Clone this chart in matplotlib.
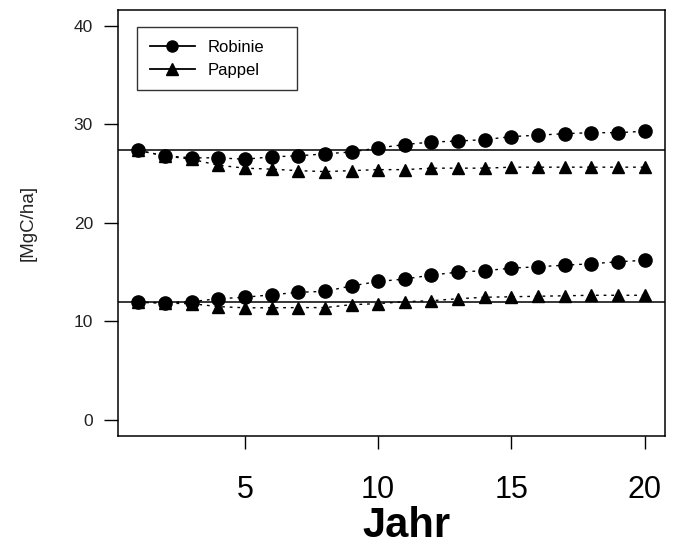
import matplotlib
matplotlib.use("Agg")
import matplotlib.pyplot as plt
from matplotlib.lines import Line2D

plt.rcParams['font.family'] = ['Liberation Sans', 'DejaVu Sans']

#%% data
jahr = list(range(1, 21))

robinie_oben = [27.35, 26.8, 26.6, 26.6, 26.45, 26.7, 26.8, 27.0, 27.2, 27.6,
                27.95, 28.2, 28.3, 28.45, 28.75, 28.9, 29.05, 29.15, 29.15, 29.3]
pappel_oben = [27.35, 26.8, 26.45, 25.85, 25.55, 25.45, 25.3, 25.2, 25.3, 25.4,
               25.4, 25.55, 25.55, 25.55, 25.65, 25.65, 25.65, 25.65, 25.65, 25.65]

robinie_unten = [11.94, 11.9, 12.0, 12.3, 12.45, 12.7, 12.95, 13.05, 13.6, 14.05,
                 14.3, 14.7, 15.0, 15.15, 15.4, 15.55, 15.7, 15.85, 16.05, 16.2]
pappel_unten = [11.94, 11.85, 11.8, 11.5, 11.38, 11.38, 11.4, 11.4, 11.7, 11.8,
                12.0, 12.1, 12.3, 12.45, 12.5, 12.55, 12.6, 12.65, 12.65, 12.65]

startwerte = [27.35, 11.94]

y_ticks = [0, 10, 20, 30, 40]
x_ticks = [5, 10, 15, 20]

#%% plot
fig = plt.figure(figsize=(6.75, 5.5), dpi=100)
ax = fig.add_axes([118/675, 1 - 435.7/550, 547/675, 425.7/550])

for h in startwerte:
    ax.axhline(h, color='black', lw=1.1, zorder=1)

punkt = dict(color='black', lw=1.0, linestyle=(0, (2, 3.5)), zorder=3)
for werte in (robinie_oben, robinie_unten):
    ax.plot(jahr, werte, marker='o', markersize=9.5, **punkt)
for werte in (pappel_oben, pappel_unten):
    ax.plot(jahr, werte, marker='^', markersize=8.5, **punkt)

ax.set_xlim(0.24, 20.76)
ax.set_ylim(-1.6, 41.6)
ax.set_xticks(x_ticks)
ax.set_yticks(y_ticks)
ax.tick_params(axis='y', length=10, width=1, labelsize=12.5, pad=8, labelcolor='#222222')
ax.tick_params(axis='x', length=9, width=1, labelsize=22, pad=19)
for s in ax.spines.values():
    s.set_linewidth(1.1)

ax.set_ylabel('[MgC/ha]', fontsize=13.5, color='#222222')
ax.yaxis.set_label_coords(-0.148, 0.5)
fig.text(406/675, 1 - 537/550, 'Jahr', fontsize=30, fontweight='bold',
         ha='center', va='baseline')

handles = [Line2D([], [], color='black', lw=1.3, marker='o', markersize=8),
           Line2D([], [], color='black', lw=1.3, marker='^', markersize=8)]
x0 = (137 - 118) / 547
y1 = (435.7 - 27) / 425.7
y0 = (435.7 - 99) / 425.7
leg = ax.legend(handles, ['Robinie', 'Pappel'], loc='upper left', fontsize=12,
                frameon=True, fancybox=False, edgecolor='black', handlelength=2.7,
                borderpad=0.75, labelspacing=0.5, handletextpad=0.8,
                bbox_to_anchor=(x0, y0, (297 - 137) / 547, y1 - y0), mode='expand',
                borderaxespad=0)
leg.get_frame().set_linewidth(1.0)

fig.savefig('out.png', dpi=100)
